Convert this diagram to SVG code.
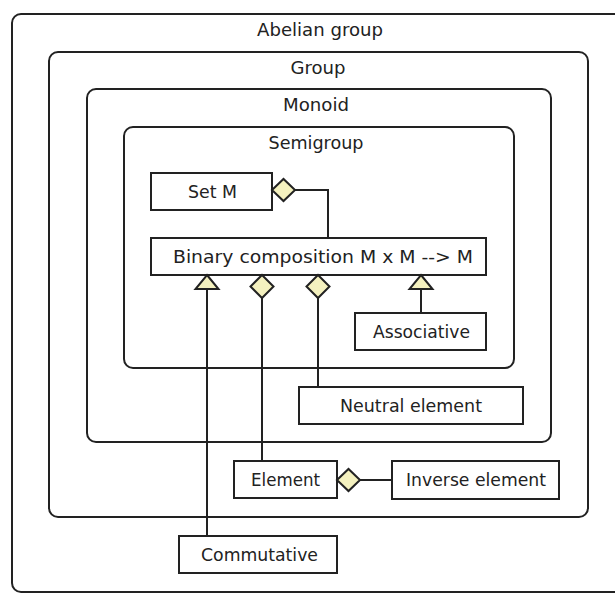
<svg xmlns="http://www.w3.org/2000/svg" width="615" height="597" viewBox="0 0 615 597">
<style>
.frame{fill:#fff;stroke:#222;stroke-width:2}
.node{fill:#fff;stroke:#222;stroke-width:2}
.lbl{font-family:"DejaVu Sans",sans-serif;font-size:18px;fill:#222;text-anchor:middle}
.link{fill:none;stroke:#222;stroke-width:2}
.head{fill:#f4f1bf;stroke:#222;stroke-width:2;stroke-linejoin:miter}
</style>
<rect width="615" height="597" fill="#fff"/>
<g id="abelian-group">
<rect class="frame" x="12" y="14" width="614" height="578" rx="9"/>
<text class="lbl" x="320" y="36" textLength="126" lengthAdjust="spacingAndGlyphs">Abelian group</text>
</g>
<g id="group">
<rect class="frame" x="49" y="52" width="539" height="465" rx="9"/>
<text class="lbl" x="318" y="74" textLength="55" lengthAdjust="spacingAndGlyphs">Group</text>
</g>
<g id="monoid">
<rect class="frame" x="87" y="89" width="464" height="353" rx="9"/>
<text class="lbl" x="316" y="111" textLength="66" lengthAdjust="spacingAndGlyphs">Monoid</text>
</g>
<g id="semigroup">
<rect class="frame" x="124" y="127" width="390" height="241" rx="9"/>
<text class="lbl" x="316" y="149" textLength="95" lengthAdjust="spacingAndGlyphs">Semigroup</text>
</g>
<g id="set-m">
<rect class="node" x="151" y="173" width="121" height="37"/>
<text class="lbl" x="212.5" y="198" textLength="49" lengthAdjust="spacingAndGlyphs">Set M</text>
</g>
<g id="binary-composition">
<rect class="node" x="151" y="238" width="335" height="37"/>
<text class="lbl" x="323" y="263" textLength="300" lengthAdjust="spacingAndGlyphs">Binary composition M x M --&gt; M</text>
</g>
<g id="associative">
<rect class="node" x="355" y="313" width="131" height="37"/>
<text class="lbl" x="421.5" y="338" textLength="97" lengthAdjust="spacingAndGlyphs">Associative</text>
</g>
<g id="neutral-element">
<rect class="node" x="299" y="387" width="224" height="37"/>
<text class="lbl" x="411" y="412" textLength="142" lengthAdjust="spacingAndGlyphs">Neutral element</text>
</g>
<g id="element">
<rect class="node" x="234" y="461" width="103" height="37"/>
<text class="lbl" x="285.5" y="486" textLength="69" lengthAdjust="spacingAndGlyphs">Element</text>
</g>
<g id="inverse-element">
<rect class="node" x="392" y="461" width="167" height="38"/>
<text class="lbl" x="476" y="486" textLength="140" lengthAdjust="spacingAndGlyphs">Inverse element</text>
</g>
<g id="commutative">
<rect class="node" x="179" y="536" width="158" height="37"/>
<text class="lbl" x="259.5" y="561" textLength="117" lengthAdjust="spacingAndGlyphs">Commutative</text>
</g>
<g id="connectors">
<path class="link" d="M295,190 H328 V238"/>
<polygon class="head" points="272,190 283.5,179 295,190 283.5,201"/>
<path class="link" d="M207,289 V536"/>
<polygon class="head" points="207,275 218.5,289 195.5,289"/>
<path class="link" d="M262,298 V461"/>
<polygon class="head" points="262,275 273.5,286.5 262,298 250.5,286.5"/>
<path class="link" d="M318,298 V387"/>
<polygon class="head" points="318,275 329.5,286.5 318,298 306.5,286.5"/>
<path class="link" d="M421,289 V313"/>
<polygon class="head" points="421,275 432.5,289 409.5,289"/>
<path class="link" d="M360,480 H392"/>
<polygon class="head" points="337,480 348.5,469 360,480 348.5,491"/>
</g>
</svg>
